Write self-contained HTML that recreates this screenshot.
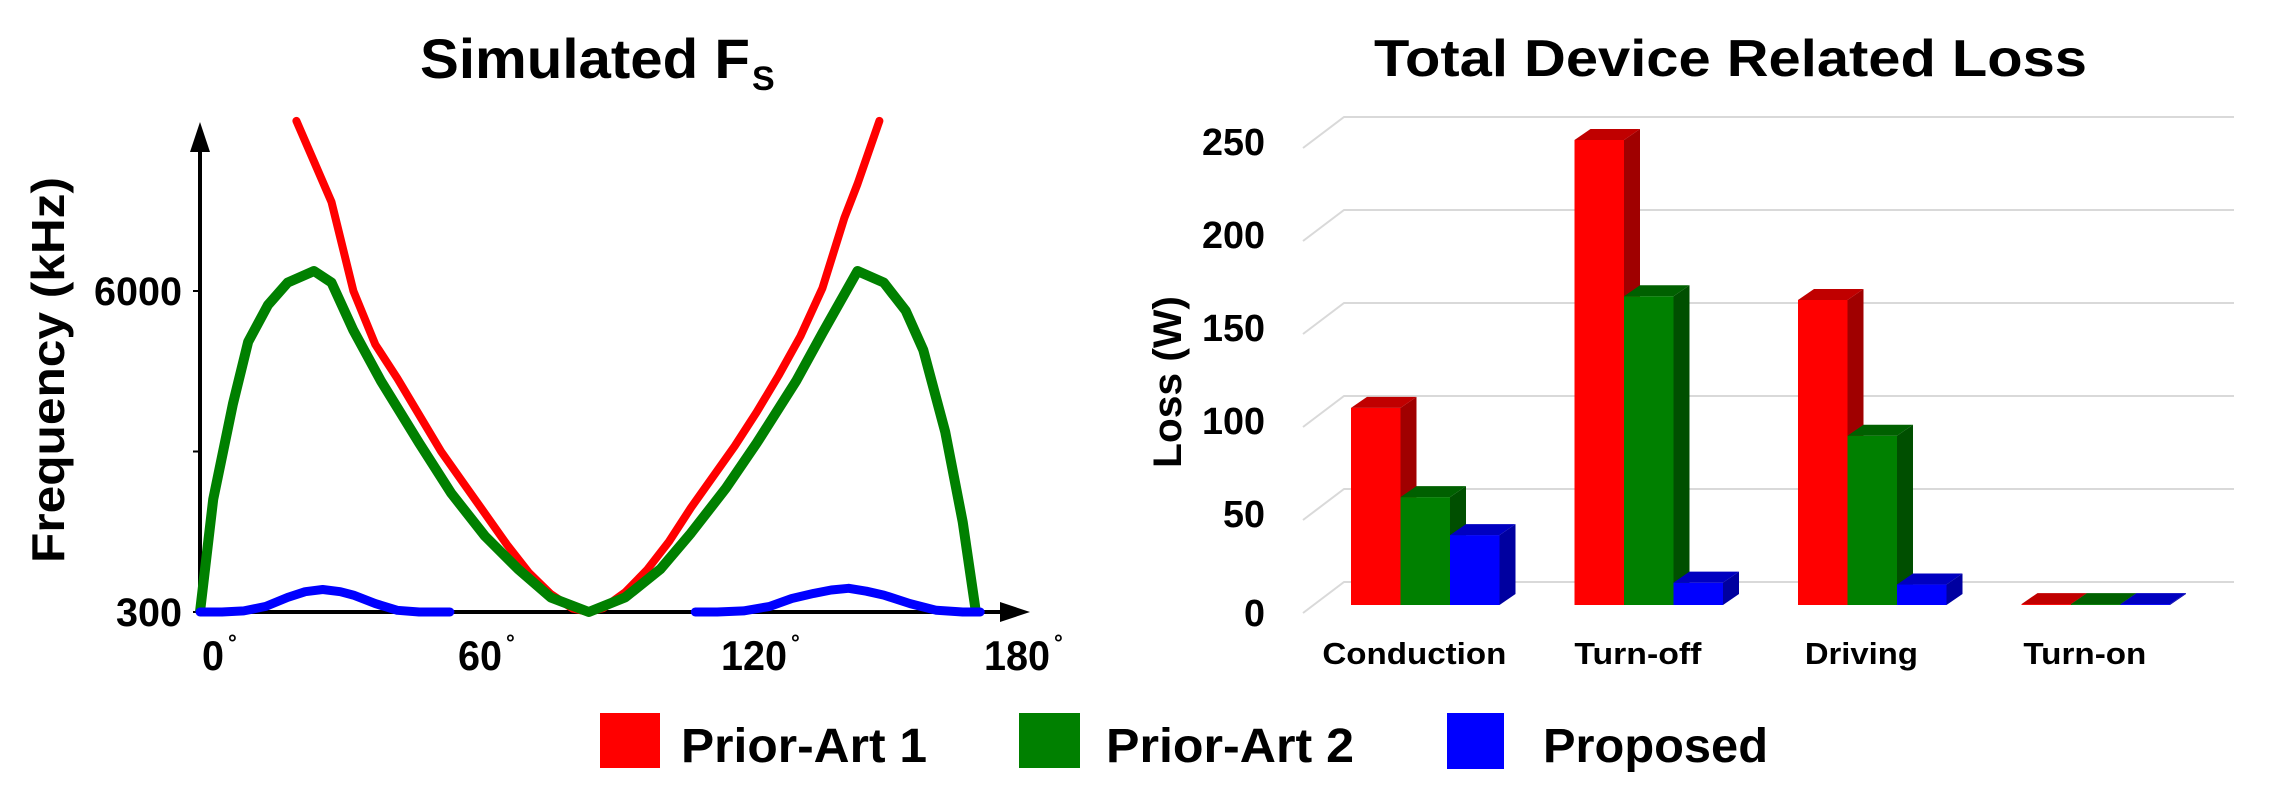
<!DOCTYPE html>
<html><head><meta charset="utf-8"><style>
html,body{margin:0;padding:0;background:#fff}
svg{display:block}
text{font-family:"Liberation Sans",Arial,sans-serif;font-weight:bold;fill:#000}
</style></head><body>
<svg id="root" width="2271" height="803" viewBox="0 0 2271 803">
<g id="left">
  <text x="420" y="78" font-size="56" textLength="330" lengthAdjust="spacingAndGlyphs">Simulated F</text>
  <text x="752" y="90" font-size="34">S</text>
  <text transform="translate(64,370) rotate(-90)" text-anchor="middle" font-size="46" textLength="386" lengthAdjust="spacingAndGlyphs">Frequency (kHz)</text>
</g>
<g id="right">
  <text x="1374" y="76" font-size="52" textLength="713" lengthAdjust="spacingAndGlyphs">Total Device Related Loss</text>
  <text transform="translate(1181,382) rotate(-90)" text-anchor="middle" font-size="40" textLength="172" lengthAdjust="spacingAndGlyphs">Loss (W)</text>
</g>
<g>
  <g>
    <rect x="600" y="713" width="60" height="55" fill="#ff0000"/>
    <text x="681" y="762" font-size="48" textLength="246" lengthAdjust="spacingAndGlyphs">Prior-Art 1</text>
  </g>
  <g>
    <rect x="1019" y="713" width="61" height="55" fill="#008000"/>
    <text x="1106" y="762" font-size="48" textLength="248" lengthAdjust="spacingAndGlyphs">Prior-Art 2</text>
  </g>
  <g>
    <rect x="1447" y="713" width="57" height="56" fill="#0000ff"/>
    <text x="1543" y="762" font-size="48" textLength="225" lengthAdjust="spacingAndGlyphs">Proposed</text>
  </g>
</g>
</svg>
<script>
// ---- Left chart data ----
const redDeg = [22,26,30,35,40,45,50,55,60,65,70,75,80,85,88.7,92,97,102,107,112,117,122,127,132,137,142,147,150,155];
const redVal = [9020,8300,7580,6000,5050,4450,3800,3150,2600,2050,1500,1000,620,360,300,370,650,1050,1550,2150,2700,3250,3850,4500,5200,6050,7300,7900,9020];
const greenDeg = [0,3,7.5,11,15.5,20,26,30,35,41.3,50,57.3,65,72.6,80,88.7,97,105,112,120,127,136,142,150,156,161,165,170,174,177];
const greenVal = [300,2300,3994,5100,5750,6150,6355,6150,5300,4400,3300,2410,1650,1060,560,300,560,1060,1700,2500,3300,4400,5250,6355,6150,5650,4950,3500,1900,300];
const blueDeg = [0,5,10,15,20,24,28,32,35,40,45,50,57,113,118,124,130,135,140,144,148,152,156,162,168,174,178];
const blueVal = [300,300,320,400,560,660,700,660,600,450,330,300,300,300,300,320,400,540,630,690,720,670,600,450,330,300,300];
const yTickVals = [300,3150,6000];
const yTickLabels = ["300","","6000"];
const xTickVals = [0,60,120,180];
const xTickLabels = ["0","60","120","180"];
// ---- Right chart data ----
const categories = ["Conduction","Turn-off","Driving","Turn-on"];
const priorArt1 = [106,250,164,0.5];
const priorArt2 = [58,166,91,0.5];
const proposed = [37.6,12,11,0.5];
const lossTicks = [0,50,100,150,200,250];

const NS = "http://www.w3.org/2000/svg";
function mk(tag, attrs, parent){const e=document.createElementNS(NS,tag);for(const k in attrs)e.setAttribute(k,attrs[k]);parent.appendChild(e);return e;}
const leftG = document.getElementById('left');
const rightG = document.getElementById('right');

const xS = d => 200 + d*263/60;
const yS = v => 612 - (v-300)*321/5700;
let ax = mk('line',{x1:200,y1:612,x2:1010,y2:612,stroke:'#000','stroke-width':4},leftG);


let xa = mk('polygon',{points:'1000,602 1030,612 1000,622',fill:'#000'},leftG);


let ay = mk('line',{x1:200,y1:612,x2:200,y2:140,stroke:'#000','stroke-width':4},leftG);


let ya = mk('polygon',{points:'190,152 200,122 210,152',fill:'#000'},leftG);


yTickVals.forEach((v,i)=>{
  const t = mk('line',{x1:193,y1:yS(v),x2:200,y2:yS(v),stroke:'#000','stroke-width':2},leftG);
  
  
  if(yTickLabels[i]){
    const tx = mk('text',{x:182,y:yS(v)+14,'text-anchor':'end','font-size':40},leftG);
    
    
    tx.setAttribute('textLength', yTickLabels[i].length*22);
    tx.setAttribute('lengthAdjust','spacingAndGlyphs');
    tx.textContent = yTickLabels[i];
  }
});
xTickVals.forEach((d,i)=>{
  const x0 = xS(d) + (i==0?2:-5);
  const tx = mk('text',{x:x0,y:670,'font-size':42},leftG);
  
  
  tx.setAttribute('textLength', xTickLabels[i].length*22);
  tx.setAttribute('lengthAdjust','spacingAndGlyphs');
  tx.textContent = xTickLabels[i];
  const dg = mk('text',{x:x0+xTickLabels[i].length*22+4,y:650,'font-size':22},leftG);
  
  
  dg.textContent = '°';
});
function linePath(ds, vs){return ds.map((d,i)=>(i?'L':'M')+xS(d).toFixed(1)+','+yS(vs[i]).toFixed(1)).join(' ');}
let pr = mk('path',{d:linePath(redDeg,redVal),fill:'none',stroke:'#ff0000','stroke-width':8,'stroke-linejoin':'round','stroke-linecap':'round'},leftG);


let pg = mk('path',{d:linePath(greenDeg,greenVal),fill:'none',stroke:'#008000','stroke-width':10,'stroke-linejoin':'round'},leftG);


const bsplit = blueDeg.indexOf(113);
let pb1 = mk('path',{d:linePath(blueDeg.slice(0,bsplit),blueVal.slice(0,bsplit)),fill:'none',stroke:'#0000ff','stroke-width':9,'stroke-linejoin':'round','stroke-linecap':'round'},leftG);


let pb2 = mk('path',{d:linePath(blueDeg.slice(bsplit),blueVal.slice(bsplit)),fill:'none',stroke:'#0000ff','stroke-width':9,'stroke-linejoin':'round','stroke-linecap':'round'},leftG);



// Right chart
const base = 605, pxPerW = 1.86;
const yL = v => base - v*pxPerW;
const gx0 = 1344, gx1 = 2234, gdx = 41, gdy = 31;
lossTicks.forEach(v=>{
  const gy = 582 - v*pxPerW;
  const g = mk('polyline',{points:`${gx0-gdx},${gy+gdy} ${gx0},${gy} ${gx1},${gy}`,fill:'none',stroke:'#d9d9d9','stroke-width':2},rightG);
  
  
  const t = mk('text',{x:1265,y:613 - v*pxPerW + 13 - (v?6:0),'text-anchor':'end','font-size':38},rightG);
  
  
  t.setAttribute('textLength', String(v).length*21);
  t.setAttribute('lengthAdjust','spacingAndGlyphs');
  t.textContent = v;
});
const seriesList = [priorArt1, priorArt2, proposed];
const seriesNames = ['prior-art-1','prior-art-2','proposed'];
const frontCol = ['#ff0000','#008000','#0000ff'], topCol = ['#c00000','#006000','#0000c0'], sideCol=['#a00000','#004f00','#0000a0'];
const bw = 49.5, groupStart = 1351, groupStep = 223.5, ddx = 16, ddy = 11;
const catLens = [184,127,113,123];
categories.forEach((c,ci)=>{
  seriesList.forEach((s,si)=>{
    const x = groupStart + ci*groupStep + si*bw;
    const y = yL(s[ci]);
    const g = mk('g',{},rightG);
    
    
    mk('polygon',{points:`${x+bw},${y} ${x+bw+ddx},${y-ddy} ${x+bw+ddx},${base-ddy} ${x+bw},${base}`,fill:sideCol[si]},g);
    mk('rect',{x:x,y:y,width:bw,height:Math.max(0,base-y),fill:frontCol[si]},g);
    mk('polygon',{points:`${x},${y} ${x+ddx},${y-ddy} ${x+bw+ddx},${y-ddy} ${x+bw},${y}`,fill:topCol[si]},g);
  });
  const t = mk('text',{x:groupStart + ci*groupStep + 1.28*bw,y:664,'text-anchor':'middle','font-size':31},rightG);
  
  
  t.setAttribute('textLength', catLens[ci]);
  t.setAttribute('lengthAdjust','spacingAndGlyphs');
  t.textContent = c;
});
</script>
</body></html>
